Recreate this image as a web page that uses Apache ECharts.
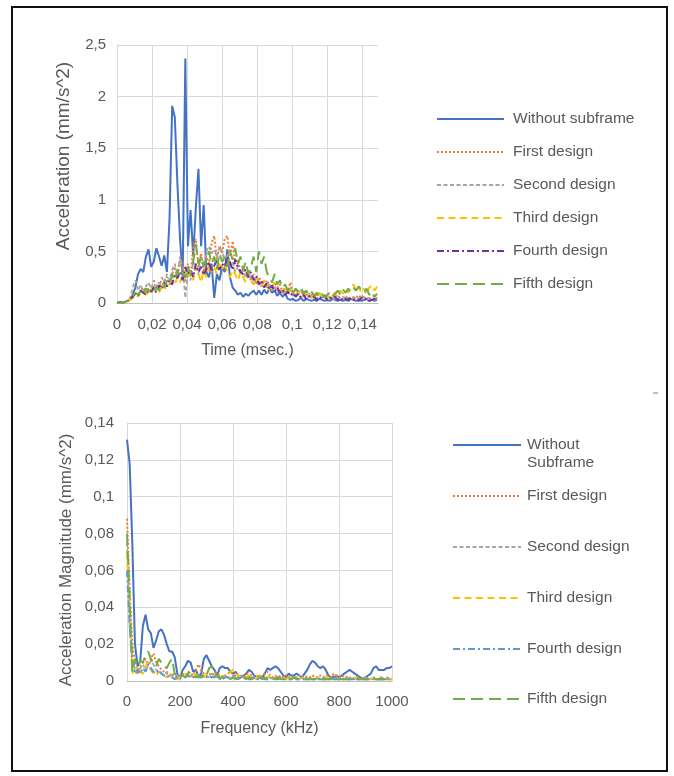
<!DOCTYPE html>
<html><head><meta charset="utf-8">
<script src="https://cdn.jsdelivr.net/npm/echarts@6/dist/echarts.min.js"></script>
<style>html,body{margin:0;padding:0;background:#fff}#c{width:674px;height:776px}</style>
</head><body><div id="c"></div><script>
// ---------- Top chart: acceleration vs time ----------
const times = [0,0.0015,0.003,0.0045,0.006,0.0075,0.009,0.0105,0.012,0.0135,
0.015,0.0165,0.018,0.0195,0.021,0.0225,0.024,0.0255,0.027,0.0285,
0.03,0.0315,0.033,0.0345,0.036,0.0375,0.039,0.0405,0.042,0.0435,
0.045,0.0465,0.048,0.0495,0.051,0.0525,0.054,0.0555,0.057,0.0585,
0.06,0.0615,0.063,0.0645,0.066,0.0675,0.069,0.0705,0.072,0.0735,
0.075,0.0765,0.078,0.0795,0.081,0.0825,0.084,0.0855,0.087,0.0885,
0.09,0.0915,0.093,0.0945,0.096,0.0975,0.099,0.1005,0.102,0.1035,
0.105,0.1065,0.108,0.1095,0.111,0.1125,0.114,0.1155,0.117,0.1185,
0.12,0.1215,0.123,0.1245,0.126,0.1275,0.129,0.1305,0.132,0.1335,
0.135,0.1365,0.138,0.1395,0.141,0.1425,0.144,0.1455,0.147,0.1485];

const timeWithoutSubframe = [0,0.01,0.01,0.01,0.02,0.03,
0.08,0.15,0.28,0.33,0.30,0.45,0.52,
0.35,0.40,0.53,0.45,0.36,0.46,0.30,
0.82,1.91,1.80,1.15,0.62,0.25,2.37,
0.55,0.90,0.45,0.92,1.30,0.55,0.95,
0.30,0.25,0.38,0.05,0.28,0.22,0.35,
0.30,0.52,0.25,0.15,0.12,0.08,0.10,
0.06,0.09,0.07,0.10,0.12,0.08,0.12,
0.08,0.13,0.09,0.14,0.10,0.12,0.07,
0.10,0.06,0.09,0.04,0.03,0.04,0.02,
0.03,0.05,0.02,0.04,0.03,0.02,0.03,
0.02,0.04,0.03,0.02,0.03,0.02,0.04,
0.03,0.02,0.03,0.02,0.03,0.02,0.04,
0.03,0.02,0.03,0.02,0.03,0.04,0.02,0.03,0.02,0.03];

const timeFirst = [0,0,0.01,0.01,0.02,0.03,
0.06,0.10,0.08,0.12,0.15,0.10,0.14,
0.12,0.18,0.15,0.20,0.14,0.22,0.25,
0.18,0.28,0.35,0.25,0.42,0.30,0.20,
0.38,0.25,0.55,0.62,0.35,0.48,0.30,
0.45,0.38,0.58,0.65,0.42,0.55,0.48,
0.62,0.65,0.45,0.60,0.38,0.42,0.30,
0.35,0.25,0.30,0.22,0.28,0.18,0.25,
0.20,0.15,0.22,0.18,0.12,0.20,0.15,
0.18,0.10,0.15,0.12,0.20,0.08,0.14,
0.10,0.06,0.12,0.08,0.10,0.05,0.09,
0.06,0.10,0.04,0.08,0.05,0.07,0.04,
0.08,0.05,0.06,0.03,0.07,0.04,0.06,
0.03,0.07,0.05,0.08,0.04,0.06,0.03,0.05,0.07,0.04];

const timeSecond = [0,0,0,0.01,0.02,0.05,
0.15,0.22,0.12,0.18,0.10,0.16,0.20,
0.14,0.22,0.18,0.12,0.25,0.20,0.28,
0.22,0.32,0.38,0.28,0.45,0.35,0.05,
0.30,0.22,0.40,0.35,0.28,0.45,0.38,
0.50,0.55,0.48,0.52,0.45,0.55,0.50,
0.42,0.48,0.35,0.40,0.30,0.35,0.28,
0.32,0.25,0.30,0.22,0.18,0.25,0.20,
0.16,0.22,0.15,0.18,0.12,0.16,0.10,
0.14,0.08,0.12,0.10,0.15,0.07,0.10,
0.08,0.12,0.06,0.09,0.05,0.08,0.06,
0.04,0.07,0.05,0.08,0.04,0.06,0.03,
0.05,0.07,0.04,0.06,0.03,0.05,0.04,
0.06,0.03,0.05,0.04,0.06,0.03,0.05,0.04,0.03,0.05];

const timeThird = [0,0,0,0.01,0.02,0.03,
0.05,0.08,0.06,0.10,0.12,0.08,0.11,
0.09,0.14,0.12,0.10,0.16,0.13,0.18,
0.15,0.22,0.18,0.25,0.20,0.28,0.32,
0.25,0.30,0.22,0.35,0.28,0.20,0.32,
0.25,0.38,0.30,0.35,0.28,0.40,0.33,
0.38,0.30,0.25,0.32,0.28,0.22,0.30,
0.25,0.20,0.28,0.22,0.18,0.24,0.20,
0.15,0.22,0.18,0.12,0.16,0.20,0.14,
0.10,0.15,0.12,0.08,0.13,0.10,0.07,
0.12,0.09,0.06,0.10,0.08,0.05,0.09,
0.07,0.10,0.06,0.08,0.05,0.09,0.07,
0.10,0.08,0.12,0.09,0.13,0.10,0.15,
0.18,0.12,0.16,0.10,0.14,0.08,0.15,0.17,0.12,0.16];

const timeFourth = [0,0,0,0.01,0.02,0.04,
0.06,0.09,0.07,0.12,0.10,0.08,0.13,
0.11,0.15,0.10,0.17,0.14,0.20,0.16,
0.22,0.18,0.28,0.24,0.30,0.22,0.35,
0.28,0.32,0.25,0.38,0.30,0.35,0.27,
0.33,0.40,0.30,0.36,0.42,0.32,0.38,
0.35,0.45,0.40,0.32,0.42,0.35,0.30,
0.28,0.33,0.25,0.30,0.22,0.26,0.18,
0.22,0.15,0.19,0.13,0.17,0.11,0.15,
0.10,0.13,0.08,0.11,0.07,0.10,0.06,
0.09,0.05,0.08,0.04,0.07,0.05,0.06,
0.03,0.06,0.04,0.07,0.03,0.05,0.04,
0.06,0.03,0.05,0.02,0.04,0.03,0.05,
0.03,0.04,0.02,0.05,0.03,0.04,0.02,0.03,0.04,0.03];

const timeFifth = [0,0,0,0.01,0.02,0.04,
0.07,0.10,0.08,0.12,0.09,0.14,0.11,
0.13,0.10,0.16,0.12,0.18,0.15,0.22,
0.18,0.28,0.22,0.32,0.26,0.30,0.24,
0.35,0.28,0.40,0.57,0.38,0.45,0.35,
0.42,0.50,0.38,0.45,0.33,0.48,0.40,
0.44,0.35,0.50,0.42,0.53,0.38,0.45,
0.32,0.40,0.28,0.35,0.45,0.30,0.50,
0.38,0.45,0.30,0.25,0.20,0.28,0.18,
0.22,0.15,0.18,0.12,0.16,0.10,0.14,
0.11,0.15,0.09,0.12,0.08,0.11,0.07,
0.10,0.06,0.09,0.05,0.08,0.10,0.06,
0.09,0.12,0.08,0.13,0.10,0.14,0.11,
0.15,0.12,0.16,0.13,0.10,0.14,0.08,0.11,0.06,0.09];

// ---------- Bottom chart: FFT magnitude vs frequency ----------
const freqs = [0,10,20,30,40,50,60,70,80,90,100,110,120,130,140,150,160,170,180,190,
200,210,220,230,240,250,260,270,280,290,300,310,320,330,340,350,360,370,380,390,
400,410,420,430,440,450,460,470,480,490,500,510,520,530,540,550,560,570,580,590,
600,610,620,630,640,650,660,670,680,690,700,710,720,730,740,750,760,770,780,790,
800,810,820,830,840,850,860,870,880,890,900,910,920,930,940,950,960,970,980,990,1000];

const freqWithoutSubframe = [0.131,0.118,0.075,0.02,0.008,0.011,0.03,0.036,0.028,0.026,
0.018,0.022,0.027,0.028,0.025,0.02,0.016,0.016,0.013,0.004,
0.001,0.006,0.008,0.011,0.01,0.005,0.006,0.002,0.004,0.012,
0.014,0.011,0.008,0.006,0.003,0.007,0.008,0.007,0.007,0.005,
0.004,0.005,0.003,0.002,0.003,0.004,0.006,0.005,0.003,0.002,
0.003,0.002,0.004,0.007,0.006,0.007,0.008,0.007,0.005,0.003,
0.002,0.004,0.003,0.003,0.004,0.003,0.002,0.004,0.006,0.009,
0.011,0.01,0.008,0.007,0.008,0.006,0.003,0.002,0.002,0.003,
0.002,0.003,0.004,0.005,0.006,0.005,0.004,0.003,0.002,0.001,
0.002,0.003,0.004,0.007,0.008,0.006,0.006,0.006,0.007,0.007,0.008];

const freqFirst = [0.088,0.05,0.02,0.01,0.006,0.008,0.01,0.012,0.009,0.012,
0.015,0.01,0.008,0.006,0.005,0.004,0.003,0.004,0.003,0.002,
0.003,0.004,0.003,0.005,0.004,0.003,0.006,0.009,0.006,0.004,
0.003,0.004,0.003,0.005,0.004,0.003,0.002,0.003,0.004,0.005,
0.004,0.003,0.002,0.003,0.002,0.004,0.004,0.003,0.002,0.003,
0.002,0.003,0.004,0.005,0.003,0.002,0.003,0.002,0.003,0.002,
0.003,0.002,0.003,0.002,0.002,0.003,0.002,0.003,0.002,0.002,
0.003,0.002,0.002,0.003,0.002,0.003,0.003,0.002,0.004,0.003,
0.002,0.002,0.003,0.002,0.002,0.001,0.002,0.002,0.001,0.002,
0.001,0.002,0.001,0.002,0.001,0.001,0.002,0.001,0.002,0.001,0.001];

const freqSecond = [0.075,0.03,0.012,0.006,0.004,0.007,0.009,0.006,0.008,0.011,
0.009,0.006,0.005,0.004,0.003,0.005,0.004,0.003,0.002,0.003,
0.002,0.003,0.002,0.004,0.003,0.002,0.003,0.004,0.003,0.002,
0.003,0.002,0.004,0.003,0.002,0.003,0.002,0.003,0.002,0.002,
0.003,0.002,0.002,0.003,0.002,0.002,0.003,0.002,0.002,0.001,
0.002,0.002,0.001,0.002,0.002,0.001,0.002,0.001,0.002,0.002,
0.001,0.002,0.001,0.001,0.002,0.001,0.002,0.001,0.001,0.002,
0.001,0.001,0.002,0.001,0.001,0.002,0.001,0.001,0.001,0.002,
0.002,0.001,0.001,0.002,0.001,0.001,0.001,0.002,0.001,0.001,
0.002,0.001,0.001,0.002,0.001,0.001,0.002,0.001,0.001,0.002,0.002];

const freqThird = [0.07,0.04,0.005,0.003,0.008,0.005,0.004,0.008,0.01,0.006,
0.004,0.003,0.005,0.004,0.003,0.002,0.003,0.002,0.002,0.001,
0.002,0.003,0.004,0.003,0.002,0.004,0.003,0.002,0.003,0.002,
0.004,0.003,0.002,0.003,0.004,0.002,0.003,0.002,0.003,0.005,
0.006,0.004,0.003,0.002,0.003,0.002,0.003,0.002,0.001,0.002,
0.003,0.002,0.001,0.002,0.003,0.002,0.001,0.002,0.001,0.002,
0.001,0.002,0.001,0.002,0.001,0.001,0.002,0.001,0.001,0.002,
0.001,0.001,0.002,0.001,0.001,0.001,0.002,0.001,0.001,0.001,
0.001,0.002,0.001,0.001,0.001,0.001,0.002,0.001,0.001,0.001,
0.001,0.001,0.001,0.002,0.001,0.001,0.001,0.001,0.001,0.001,0.001];

const freqFourth = [0.06,0.03,0.01,0.004,0.006,0.004,0.007,0.005,0.009,0.007,
0.005,0.004,0.006,0.004,0.003,0.002,0.003,0.002,0.001,0.002,
0.002,0.003,0.002,0.003,0.002,0.002,0.003,0.002,0.002,0.003,
0.002,0.003,0.002,0.002,0.003,0.002,0.001,0.002,0.002,0.001,
0.002,0.002,0.001,0.002,0.001,0.002,0.001,0.001,0.002,0.001,
0.001,0.002,0.001,0.001,0.002,0.001,0.001,0.001,0.002,0.001,
0.001,0.001,0.001,0.002,0.001,0.001,0.001,0.001,0.001,0.001,
0.001,0.001,0.001,0.001,0.001,0.001,0.001,0.001,0.001,0.001,
0.001,0.001,0.001,0.001,0.001,0.001,0.001,0.001,0.001,0.001,
0.001,0.001,0.001,0.001,0.001,0.001,0.001,0.001,0.001,0.001,0.001];

const freqFifth = [0.08,0.045,0.005,0.012,0.008,0.011,0.01,0.014,0.016,0.012,
0.01,0.008,0.012,0.01,0.008,0.007,0.01,0.012,0.004,0.003,
0.002,0.003,0.002,0.004,0.005,0.003,0.002,0.003,0.002,0.004,
0.003,0.007,0.008,0.004,0.003,0.001,0.002,0.003,0.002,0.001,
0.002,0.001,0.002,0.003,0.002,0.001,0.002,0.001,0.002,0.003,
0.002,0.001,0.002,0.001,0.001,0.002,0.001,0.002,0.001,0.001,
0.002,0.001,0.001,0.002,0.001,0.001,0.001,0.002,0.001,0.001,
0.001,0.001,0.002,0.001,0.001,0.001,0.001,0.001,0.002,0.001,
0.001,0.001,0.001,0.001,0.001,0.001,0.001,0.001,0.001,0.001,
0.001,0.001,0.001,0.001,0.001,0.001,0.001,0.001,0.001,0.001,0.001];

const topNames = ['Without subframe','First design','Second design','Third design','Fourth design','Fifth design'];
const bottomLabels = ['Without\nSubframe','First design','Second design','Third design','Fourth design','Fifth design'];
const topValues = [timeWithoutSubframe,timeFirst,timeSecond,timeThird,timeFourth,timeFifth];
const bottomValues = [freqWithoutSubframe,freqFirst,freqSecond,freqThird,freqFourth,freqFifth];

// ---------- styling ----------
const FONT = "'Liberation Sans', Arial, sans-serif";
const TXT = '#595959';
const topColors = ['#4472C4','#ED7D31','#A5A5A5','#FFC000','#7030A0','#70AD47'];
const bottomColors = ['#4472C4','#ED7D31','#A5A5A5','#FFC000','#5B9BD5','#70AD47'];
const dashes = ['solid',[2,2],[4,2.5],[7,4.5],[7,3,2,3],[12,6]];
const widths = [2,2,1.8,2,2,2];
const comma = v => String(v).replace('.', ',');

const series = [];
topNames.forEach((n,k)=>{
  series.push({name:n,type:'line',xAxisIndex:0,yAxisIndex:0,symbol:'none',
    data:times.map((t,i)=>[t,topValues[k][i]]),
    lineStyle:{color:topColors[k],width:widths[k],type:dashes[k]},itemStyle:{color:topColors[k]},z:2+k});
});
bottomLabels.forEach((n,k)=>{
  series.push({name:'fft:'+n,type:'line',xAxisIndex:1,yAxisIndex:1,symbol:'none',
    data:freqs.map((f,i)=>[f,bottomValues[k][i]]),
    lineStyle:{color:bottomColors[k],width:widths[k],type:dashes[k]},itemStyle:{color:bottomColors[k]},z:2+k});
});

const axisLabel = {color:TXT,fontSize:15,fontFamily:FONT};
const nameStyle = {color:TXT,fontSize:16,fontFamily:FONT};
const split = {show:true,lineStyle:{color:'#d9d9d9',width:1}};

const legendText = {color:TXT,fontSize:15.5,fontFamily:FONT,lineHeight:18};
const bottomTops = [444,494,545,596,647,697];
const legends = [{
  data:topNames,orient:'vertical',left:431,top:105,itemWidth:67,itemHeight:14,itemGap:15,
  itemStyle:{opacity:0},
  textStyle:Object.assign({},legendText,{padding:[0,0,0,4]}),selectedMode:false
}];
bottomLabels.forEach((n,k)=>{
  const multi = n.indexOf('\n')>=0;
  legends.push({data:['fft:'+n],orient:'vertical',left:447,top:multi?bottomTops[k]-31:bottomTops[k]-12,
    itemWidth:68,itemHeight:14,selectedMode:false,itemStyle:{opacity:0},
    formatter:s=>multi?' \n'+s.replace('fft:',''):s.replace('fft:',''),
    textStyle:Object.assign({},legendText,{padding:[0,0,0,1]})});
});

const option = {
  backgroundColor:'#ffffff',
  animation:false,
  textStyle:{fontFamily:FONT},
  grid:[{left:117,top:45,width:261,height:258},{left:127,top:423,width:265,height:258}],
  xAxis:[
    {gridIndex:0,type:'value',min:0,max:0.149,interval:0.02,
     name:'Time (msec.)',nameLocation:'middle',nameGap:40,nameTextStyle:nameStyle,
     axisLine:{show:true,lineStyle:{color:'#bfbfbf'}},axisTick:{show:false},
     axisLabel:Object.assign({},axisLabel,{margin:14,formatter:comma,showMaxLabel:false}),
     splitLine:{show:true,showMaxLine:false,lineStyle:{color:'#d9d9d9',width:1}}},
    {gridIndex:1,type:'value',min:0,max:1000,interval:200,
     name:'Frequency (kHz)',nameLocation:'middle',nameGap:40,nameTextStyle:nameStyle,
     axisLine:{show:true,lineStyle:{color:'#bfbfbf'}},axisTick:{show:false},
     axisLabel:Object.assign({},axisLabel,{margin:13,formatter:v=>String(v)}),splitLine:split}
  ],
  yAxis:[
    {gridIndex:0,type:'value',min:0,max:2.5,interval:0.5,
     name:'Acceleration (mm/s^2)',nameLocation:'middle',nameGap:44,
     nameTextStyle:Object.assign({},nameStyle,{fontSize:19,padding:[0,0,0,36]}),
     axisLine:{show:true,lineStyle:{color:'#d9d9d9'}},axisTick:{show:false},
     axisLabel:Object.assign({},axisLabel,{margin:11,formatter:comma}),splitLine:split},
    {gridIndex:1,type:'value',min:0,max:0.14,interval:0.02,
     name:'Acceleration Magnitude (mm/s^2)',nameLocation:'middle',nameGap:52,
     nameTextStyle:Object.assign({},nameStyle,{fontSize:17,padding:[0,16,0,0]}),
     axisLine:{show:true,lineStyle:{color:'#d9d9d9'}},axisTick:{show:false},
     axisLabel:Object.assign({},axisLabel,{margin:13,formatter:comma}),splitLine:split}
  ],
  legend:legends,
  graphic:[
    {type:'rect',shape:{x:12,y:7,width:655,height:764},style:{fill:'none',stroke:'#111',lineWidth:2},silent:true,z:100},
    {type:'line',shape:{x1:653,y1:393,x2:658,y2:393},style:{stroke:'#7f7f7f',lineWidth:1},silent:true}
  ],
  series:series
};
const chart = echarts.init(document.getElementById('c'),null,{renderer:'canvas'});
chart.setOption(option);
</script></body></html>
